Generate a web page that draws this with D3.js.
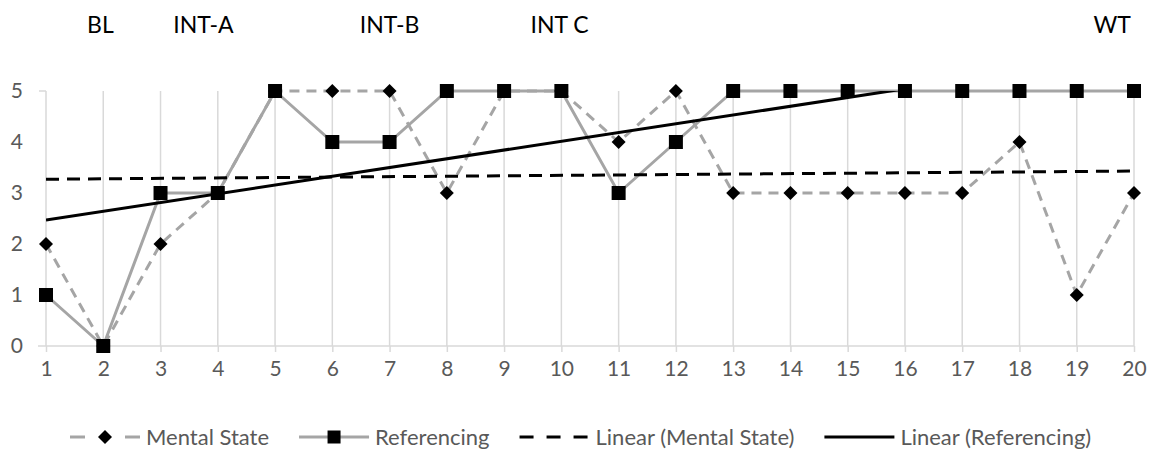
<!DOCTYPE html>
<html>
<head>
<meta charset="utf-8">
<script src="https://cdn.jsdelivr.net/npm/d3@7"></script>
<style>
  body { margin: 0; background: #fff; }
  text { font-family: Lato, "Open Sans", sans-serif; }
</style>
</head>
<body>
<div id="chart"></div>
<script>
// data
const sessions = [1, 2, 3, 4, 5, 6, 7, 8, 9, 10, 11, 12, 13, 14, 15, 16, 17, 18, 19, 20];
const mentalState = [2, 0, 2, 3, 5, 5, 5, 3, 5, 5, 4, 5, 3, 3, 3, 3, 3, 4, 1, 3];
const referencing = [1, 0, 3, 3, 5, 4, 4, 5, 5, 5, 3, 4, 5, 5, 5, 5, 5, 5, 5, 5];
// trendline end points (session, value)
const trendMental = [[1, 3.27], [20, 3.43]];
const trendReferencing = [[1, 2.47], [20, 5.73]];
const yTicks = [0, 1, 2, 3, 4, 5];
const phaseLabels = ["BL", "INT-A", "INT-B", "INT C", "WT"];
const phaseAt = [1.95, 3.75, 7.0, 9.97, 19.62];
const legendLabels = ["Mental State", "Referencing", "Linear (Mental State)", "Linear (Referencing)"];

// layout
const W = 1152, H = 452;
const plot = {left: 46, right: 1134, top: 91, bottom: 346};

const x = d3.scaleLinear().domain([1, 20]).range([plot.left, plot.right]);
const y = d3.scaleLinear().domain([0, 5]).range([plot.bottom, plot.top]);

const svg = d3.select("#chart").append("svg")
    .attr("width", W)
    .attr("height", H);

svg.append("defs").append("clipPath")
    .attr("id", "plotclip")
  .append("rect")
    .attr("x", plot.left)
    .attr("y", plot.top)
    .attr("width", plot.right - plot.left)
    .attr("height", plot.bottom - plot.top);

// vertical gridlines
svg.append("g").selectAll("line")
  .data(sessions)
  .join("line")
    .attr("x1", d => x(d))
    .attr("x2", d => x(d))
    .attr("y1", plot.top)
    .attr("y2", plot.bottom)
    .attr("stroke", "#d9d9d9")
    .attr("stroke-width", 1.5);

// x axis
const xAxis = svg.append("g")
    .attr("transform", "translate(0," + plot.bottom + ")")
    .call(d3.axisBottom(x).tickValues(sessions).tickFormat(d3.format("d"))
      .tickSize(6).tickSizeOuter(0).tickPadding(9));
xAxis.select(".domain").attr("stroke", "#d9d9d9").attr("stroke-width", 1.5)
    .attr("d", "M" + (plot.left - 8) + ",0H" + plot.right);
xAxis.selectAll(".tick line").attr("stroke", "#d9d9d9").attr("stroke-width", 1.5);
xAxis.selectAll(".tick text").attr("fill", "#595959").style("font-size", "21px");

// y axis labels
const yAxis = svg.append("g")
    .attr("transform", "translate(" + plot.left + ",0)")
    .call(d3.axisLeft(y).tickValues(yTicks).tickFormat(d3.format("d")).tickSize(0).tickPadding(23));
yAxis.select(".domain").remove();
yAxis.selectAll(".tick text").attr("fill", "#595959").style("font-size", "21px");
// small top tick
svg.append("line")
    .attr("x1", plot.left - 7).attr("x2", plot.left)
    .attr("y1", y(5)).attr("y2", y(5))
    .attr("stroke", "#d9d9d9").attr("stroke-width", 1.5);

const line = d3.line()
    .x((d, i) => x(sessions[i]))
    .y(d => y(d));

const trendLine = d3.line()
    .x(d => x(d[0]))
    .y(d => y(d[1]));

// series lines
svg.append("path")
    .datum(referencing)
    .attr("d", line)
    .attr("fill", "none")
    .attr("stroke", "#a5a5a5")
    .attr("stroke-width", 3);

svg.append("path")
    .datum(mentalState)
    .attr("d", line)
    .attr("fill", "none")
    .attr("stroke", "#a5a5a5")
    .attr("stroke-width", 3)
    .attr("stroke-dasharray", "10,7");

// trendlines
svg.append("path")
    .datum(trendMental)
    .attr("d", trendLine)
    .attr("fill", "none")
    .attr("stroke", "#000")
    .attr("stroke-width", 3)
    .attr("stroke-dasharray", "13,8");

svg.append("path")
    .datum(trendReferencing)
    .attr("d", trendLine)
    .attr("clip-path", "url(#plotclip)")
    .attr("fill", "none")
    .attr("stroke", "#000")
    .attr("stroke-width", 3);

// markers
const diamond = "M0,-7L7,0L0,7L-7,0Z";

svg.append("g").selectAll("rect")
  .data(referencing)
  .join("rect")
    .attr("x", (d, i) => x(sessions[i]) - 7)
    .attr("y", d => y(d) - 7)
    .attr("width", 14)
    .attr("height", 14)
    .attr("fill", "#000");

svg.append("g").selectAll("path")
  .data(mentalState)
  .join("path")
    .attr("d", diamond)
    .attr("transform", (d, i) => "translate(" + x(sessions[i]) + "," + y(d) + ")")
    .attr("fill", "#000");

// phase labels
svg.append("g").selectAll("text")
  .data(phaseLabels)
  .join("text")
    .attr("x", (d, i) => x(phaseAt[i]))
    .attr("y", 33)
    .attr("text-anchor", "middle")
    .style("font-size", "23px")
    .attr("fill", "#000")
    .text(d => d);

// legend
const legend = svg.append("g");
const legendY = 437;
const symW = 70;
let cursor = 70;
legendLabels.forEach((label, i) => {
  const g = legend.append("g");
  if (i === 0) {
    g.append("line").attr("x1", cursor).attr("x2", cursor + symW)
      .attr("y1", legendY).attr("y2", legendY)
      .attr("stroke", "#a5a5a5").attr("stroke-width", 3)
      .attr("stroke-dasharray", "15,40,15");
    g.append("path").attr("d", diamond)
      .attr("transform", "translate(" + (cursor + symW / 2) + "," + legendY + ")");
  } else if (i === 1) {
    g.append("line").attr("x1", cursor).attr("x2", cursor + symW)
      .attr("y1", legendY).attr("y2", legendY)
      .attr("stroke", "#a5a5a5").attr("stroke-width", 3);
    g.append("rect").attr("x", cursor + symW / 2 - 6.5).attr("y", legendY - 6.5)
      .attr("width", 13).attr("height", 13);
  } else if (i === 2) {
    g.append("line").attr("x1", cursor).attr("x2", cursor + symW)
      .attr("y1", legendY).attr("y2", legendY)
      .attr("stroke", "#000").attr("stroke-width", 3)
      .attr("stroke-dasharray", "14,13");
  } else {
    g.append("line").attr("x1", cursor).attr("x2", cursor + symW)
      .attr("y1", legendY).attr("y2", legendY)
      .attr("stroke", "#000").attr("stroke-width", 3);
  }
  const t = g.append("text")
      .attr("x", cursor + symW + 6)
      .attr("y", legendY)
      .attr("dy", "0.35em")
      .attr("fill", "#595959")
      .style("font-size", "22px")
      .text(label);
  cursor += symW + 6 + t.node().getComputedTextLength() + 30;
});
</script>
</body>
</html>
